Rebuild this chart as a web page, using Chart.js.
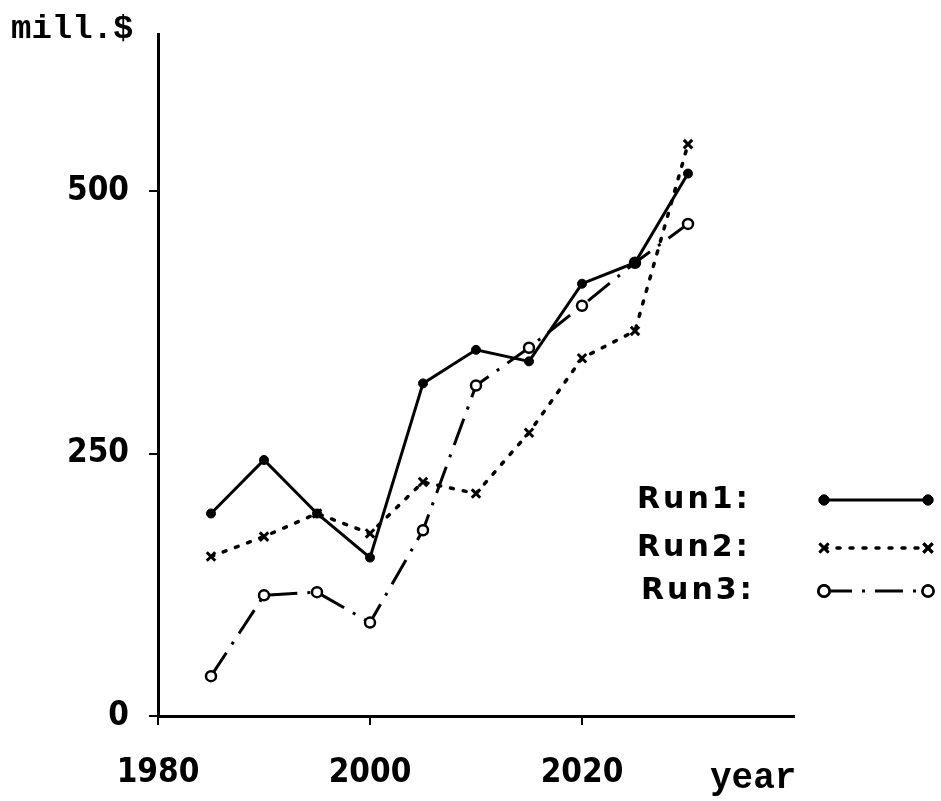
<!DOCTYPE html>
<html>
<head>
<meta charset="utf-8">
<script src="https://cdn.jsdelivr.net/npm/chart.js@4/dist/chart.umd.min.js"></script>
<style>
  html, body { margin: 0; padding: 0; background: #fff; }
  #wrap { width: 941px; height: 801px; }
</style>
</head>
<body>
<div id="wrap"><canvas id="chart" width="941" height="801"></canvas></div>
<script>
// values
const years = [1985, 1990, 1995, 2000, 2005, 2010, 2015, 2020, 2025, 2030];
const run1 = [193, 244, 193, 151, 317, 349, 338, 412, 432, 517];
const run2 = [152, 171, 193, 174, 223, 212, 270, 341, 367, 545];
const run3 = [38, 115, 118, 89, 177, 315, 351, 391, 432, 469];
const yTicks = [0, 250, 500];
const xTicks = [1980, 2000, 2020];
const seriesNames = ['Run1', 'Run2', 'Run3'];

const pts = arr => years.map((x, i) => ({ x, y: arr[i] }));

const sansFam = '"DejaVu Sans Condensed", "Liberation Sans", sans-serif';
const tickFont = { family: sansFam, size: 33, weight: 'bold' };
const monoFont = 'bold 34px "Liberation Mono"';

// axis captions + the hand-made legend on the right
const extras = {
  id: 'extras',
  afterDraw(chart) {
    const ctx = chart.ctx;
    ctx.save();
    ctx.fillStyle = '#000';
    ctx.font = monoFont;
    ctx.textBaseline = 'alphabetic';
    ctx.textAlign = 'left';
    ctx.fillText('mill.$', 11, 38);
    ctx.font = 'bold 36px "Liberation Mono"';
    ctx.fillText('year', 710, 788);

    const rows = [500, 548, 591];
    ctx.font = 'bold 30px "DejaVu Sans"';
    ctx.letterSpacing = '3px';
    ctx.textBaseline = 'middle';
    seriesNames.forEach((name, i) => {
      ctx.fillText(name + ':', 637 + (i === 2 ? 4 : 0), rows[i]);
    });
    ctx.letterSpacing = '0px';

    const x0 = 824, x1 = 928;
    chart.data.datasets.forEach((ds, i) => {
      const y = rows[i];
      ctx.save();
      ctx.strokeStyle = '#000';
      ctx.lineWidth = ds.borderWidth;
      ctx.lineCap = ds.borderCapStyle || 'butt';
      ctx.setLineDash(ds.borderDash || []);
      ctx.beginPath();
      ctx.moveTo(x0, y);
      ctx.lineTo(x1, y);
      ctx.stroke();
      ctx.restore();
      [x0, x1].forEach(px => {
        Chart.helpers.drawPoint(ctx, {
          pointStyle: ds.pointStyle,
          radius: ds.pointRadius + 0.5,
          borderWidth: ds.pointBorderWidth,
          rotation: 0
        }, px, y);
        ctx.fillStyle = ds.pointBackgroundColor;
        ctx.strokeStyle = '#000';
        ctx.lineWidth = ds.pointBorderWidth;
        if (ds.pointStyle === 'circle') { ctx.fill(); }
        ctx.stroke();
      });
    });
    ctx.restore();
  }
};

new Chart(document.getElementById('chart'), {
  type: 'line',
  data: {
    datasets: [
      {
        label: seriesNames[0],
        data: pts(run1),
        borderColor: '#000',
        borderWidth: 3,
        pointStyle: 'circle',
        pointRadius: 4.5,
        pointBackgroundColor: '#000',
        pointBorderColor: '#000',
        pointBorderWidth: 1,
        tension: 0
      },
      {
        label: seriesNames[1],
        data: pts(run2),
        borderColor: '#000',
        borderWidth: 3.5,
        borderDash: [3, 10],
        borderCapStyle: 'round',
        pointStyle: 'crossRot',
        pointRadius: 6,
        pointBackgroundColor: '#000',
        pointBorderColor: '#000',
        pointBorderWidth: 3,
        tension: 0
      },
      {
        label: seriesNames[2],
        data: pts(run3),
        borderColor: '#000',
        borderWidth: 3,
        borderDash: [28, 10, 3, 10],
        pointStyle: 'circle',
        pointRadius: 5,
        pointBackgroundColor: '#fff',
        pointBorderColor: '#000',
        pointBorderWidth: 2.5,
        tension: 0
      }
    ]
  },
  options: {
    responsive: false,
    animation: false,
    layout: { padding: { left: 0, right: 147, top: 34, bottom: 0 } },
    plugins: { legend: { display: false }, tooltip: { enabled: false } },
    scales: {
      x: {
        type: 'linear',
        min: 1980,
        max: 2040,
        afterBuildTicks: s => { s.ticks = xTicks.map(v => ({ value: v })); },
        afterFit: s => { s.height = 85; },
        grid: { drawOnChartArea: false, drawTicks: true, tickLength: 9, color: '#000', lineWidth: 2 },
        border: { display: true, color: '#000', width: 3 },
        ticks: { color: '#000', font: tickFont, padding: 29, maxRotation: 0, callback: v => String(v) }
      },
      y: {
        min: 0,
        max: 650,
        afterBuildTicks: s => { s.ticks = yTicks.map(v => ({ value: v })); },
        afterFit: s => { s.width = 158; s.paddingTop = 0; s.paddingBottom = 0; },
        grid: { drawOnChartArea: false, drawTicks: true, tickLength: 9, color: '#000', lineWidth: 2 },
        border: { display: true, color: '#000', width: 3 },
        ticks: { color: '#000', font: tickFont, padding: 20 }
      }
    }
  },
  plugins: [extras]
});
</script>
</body>
</html>
